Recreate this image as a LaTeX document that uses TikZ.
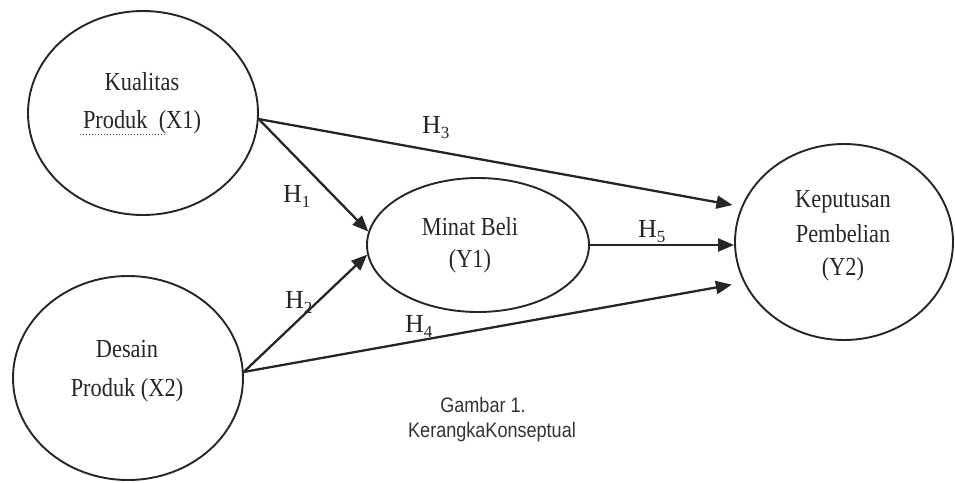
\documentclass[tikz,border=0pt]{standalone}
\usepackage{fontspec}
\setmainfont{Liberation Serif}
\newfontfamily\capfont{Liberation Sans}
\usepackage{graphicx}
\usetikzlibrary{shapes.geometric,arrows.meta}
\newcommand\sqz[1]{\scalebox{0.86}[1]{#1}}
\newcommand\hsub[1]{\raisebox{-0.22em}{\fontsize{17}{17}\selectfont #1}}
\begin{document}
\begin{tikzpicture}[x=1pt,y=-1pt,
  oval/.style={ellipse, draw=black!85, line width=1.9pt, inner sep=0pt},
  arr/.style={draw=black!85, line width=2.3pt, -{Triangle[length=16pt,width=13pt]}},
  txt/.style={anchor=base, inner sep=0pt, text=black!85, font=\fontsize{26}{30}\selectfont},
  hl/.style={anchor=base west, inner sep=0pt, text=black!85, font=\fontsize{26}{30}\selectfont},
  captxt/.style={anchor=base, inner sep=0pt, text=black!80, font=\capfont\fontsize{21}{24}\selectfont}]
\useasboundingbox (0,0) rectangle (955,482);

% ellipses
\node[oval, minimum width=230pt, minimum height=204pt] (x1) at (143,113) {};
\node[oval, minimum width=230pt, minimum height=204pt] (x2) at (128,378) {};
\node[oval, minimum width=222pt, minimum height=134pt] (y1) at (478,245) {};
\node[oval, minimum width=218pt, minimum height=196pt] (y2) at (844,242) {};

% texts
\node[txt] (t1a) at (142,90) {\sqz{Kualitas}};
\node[txt] (t1b) at (142,128) {\sqz{Produk\enspace(X1)}};
\draw[green!55!black, line width=1pt, dotted] (80,134) -- (165,134);
\node[txt] (t2a) at (127,357) {\sqz{Desain}};
\node[txt] (t2b) at (127,396) {\sqz{Produk (X2)}};
\node[txt] (t3a) at (470,235) {\sqz{Minat Beli}};
\node[txt] (t3b) at (470,267) {\sqz{(Y1)}};
\node[txt] (t4a) at (843,207) {\sqz{Keputusan}};
\node[txt] (t4b) at (843,242) {\sqz{Pembelian}};
\node[txt] (t4c) at (843,275) {\sqz{(Y2)}};

% arrows
\draw[arr] (x1.-3) -- (y1.173);
\draw[arr, shorten >=9pt] (x1.-3) -- (y2.161);
\draw[arr] (x2.3) -- (y1.185);
\draw[arr, shorten >=12pt] (x2.3) -- (y2.202);
\draw[arr] (y1.east) -- (y1.east -| y2.west);

% hypothesis labels
\node[hl] (h1) at (283,202) {H\hsub{1}};
\node[hl] (h2) at (285,308) {H\hsub{2}};
\node[hl] (h3) at (422,133) {H\hsub{3}};
\node[hl] (h4) at (405,332) {H\hsub{4}};
\node[hl] (h5) at (638,237) {H\hsub{5}};

% caption
\node[captxt] (c1) at (483,412) {\sqz{Gambar 1.}};
\node[captxt] (c2) at (492,437) {\sqz{KerangkaKonseptual}};
\end{tikzpicture}
\end{document}
